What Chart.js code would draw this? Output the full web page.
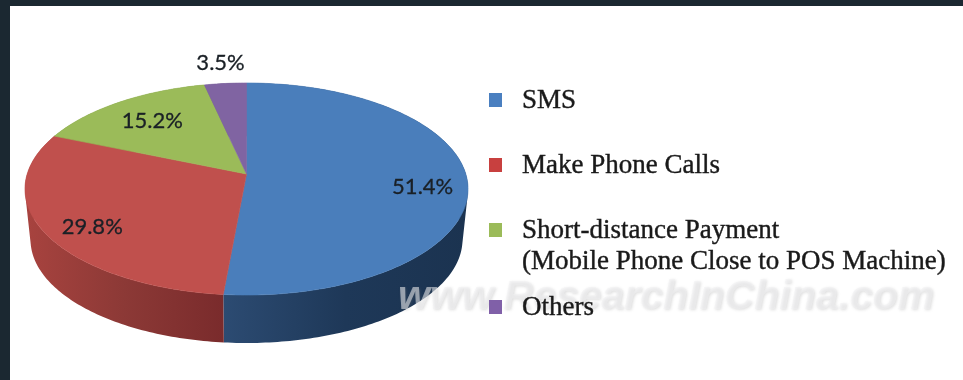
<!DOCTYPE html>
<html>
<head>
<meta charset="utf-8">
<style>
  html, body { margin: 0; padding: 0; background: #1b2831; }
  canvas { display: block; }
</style>
<script src="https://cdn.jsdelivr.net/npm/chart.js@4"></script>
</head>
<body>
<canvas id="chart" width="963" height="380"></canvas>
<script>
// Share of mobile payment / phone usage categories, in percent
const categories = ['SMS', 'Make Phone Calls', 'Short-distance Payment\n(Mobile Phone Close to POS Machine)', 'Others'];
const shares = [51.4, 29.8, 15.2, 3.5];
const valueLabels = ['51.4%', '29.8%', '15.2%', '3.5%'];
const sliceColors = ['#4a7ebb', '#c0504d', '#9bbb59', '#8064a2'];
const legendColors = ['#4a7fc0', '#c8403f', '#9bbb59', '#8060a8'];
const wallShades = [
  ['#2c4b72', '#1e3858', '#1b3350'],
  ['#a8433f', '#8c3936', '#7a2b2c'],
  ['#6d8540', '#6d8540', '#6d8540'],
  ['#5a4674', '#5a4674', '#5a4674']
];

// Perspective tilt of the disc
const tilt = { cx: 246.5, cy: 174, rx: 219.3, ry: 103.9, persp: 0.1415 };
const base = { cy: 225, scale: 0.975 };

function project(theta, r, lower) {
  const u = Math.cos(theta) * r;
  const v = -Math.sin(theta) * r;
  const w = 1 + tilt.persp * v;
  const s = lower ? base.scale : 1;
  return {
    x: tilt.cx + s * tilt.rx * u / w,
    y: (lower ? base.cy : tilt.cy) - s * tilt.ry * v / w
  };
}

function rimPoints(a0, a1, lower) {
  const steps = Math.max(6, Math.ceil((a1 - a0) * 60));
  const pts = [];
  for (let i = 0; i <= steps; i++) {
    pts.push(project(a0 + (a1 - a0) * i / steps, 1, lower));
  }
  return pts;
}

function signedArea(q) {
  let sum = 0;
  q.forEach((p, i) => {
    const n = q[(i + 1) % q.length];
    sum += p.x * n.y - n.x * p.y;
  });
  return sum;
}

// Draws the pie's arc elements as an extruded, tilted disc
const tiltedPie = {
  id: 'tiltedPie',
  beforeDatasetDraw(chart, args) {
    const ctx = chart.ctx;
    const arcs = args.meta.data;
    ctx.save();
    // Side wall: quads share one path and one winding, so no seams appear between them
    arcs.forEach((arc, i) => {
      const top = rimPoints(arc.startAngle, arc.endAngle, false);
      const low = rimPoints(arc.startAngle, arc.endAngle, true);
      const xs = top.map(p => p.x);
      const g = ctx.createLinearGradient(Math.min(...xs), 0, Math.max(...xs), 0);
      wallShades[i].forEach((c, k) => g.addColorStop(k / 2, c));
      ctx.fillStyle = g;
      ctx.beginPath();
      for (let k = 0; k < top.length - 1; k++) {
        const quad = [top[k], top[k + 1], low[k + 1], low[k]];
        if (signedArea(quad) < 0) quad.reverse();
        quad.forEach((p, n) => n ? ctx.lineTo(p.x, p.y) : ctx.moveTo(p.x, p.y));
        ctx.closePath();
      }
      ctx.fill('nonzero');
    });
    arcs.forEach((arc, i) => {
      const apex = project(0, 0, false);
      ctx.fillStyle = sliceColors[i];
      ctx.strokeStyle = sliceColors[i];
      ctx.lineWidth = 0.6;
      ctx.beginPath();
      ctx.moveTo(apex.x, apex.y);
      rimPoints(arc.startAngle, arc.endAngle, false).forEach(p => ctx.lineTo(p.x, p.y));
      ctx.closePath();
      ctx.fill();
      ctx.stroke();
    });
    ctx.restore();
    return false;
  },
  afterDatasetsDraw(chart) {
    const ctx = chart.ctx;
    const arcs = chart.getDatasetMeta(0).data;
    const spots = [
      { r: 0.80, dy: 9 },
      { r: 0.775, dy: 9 },
      { r: 0.72, dy: 0 },
      { r: 1.27, dy: 0 }
    ];
    ctx.save();
    ctx.font = '22px Lato, "Open Sans", sans-serif';
    ctx.fillStyle = '#1a2026';
    ctx.strokeStyle = '#1a2026';
    ctx.lineWidth = 0.3;
    ctx.textAlign = 'center';
    ctx.textBaseline = 'middle';
    arcs.forEach((arc, i) => {
      const mid = (arc.startAngle + arc.endAngle) / 2;
      const p = project(mid, spots[i].r, false);
      ctx.fillText(valueLabels[i], p.x, p.y + spots[i].dy);
      ctx.strokeText(valueLabels[i], p.x, p.y + spots[i].dy);
    });
    ctx.restore();
  }
};

// Background panel, site watermark and side legend
const page = {
  id: 'page',
  beforeDraw(chart) {
    const ctx = chart.ctx;
    ctx.save();
    ctx.fillStyle = '#1b2831';
    ctx.fillRect(0, 0, chart.width, chart.height);
    ctx.fillStyle = '#ffffff';
    ctx.fillRect(10, 6, chart.width - 10, chart.height - 6);
    ctx.restore();
  },
  afterDraw(chart) {
    const ctx = chart.ctx;
    const rows = [101, 166, 231, 308];

    ctx.save();
    ctx.font = 'italic bold 41px "Liberation Sans", sans-serif';
    ctx.shadowColor = 'rgba(120,120,120,0.45)';
    ctx.shadowBlur = 3;
    ctx.shadowOffsetX = 1;
    ctx.shadowOffsetY = 1;
    ctx.fillStyle = 'rgba(240,241,243,0.55)';
    ctx.fillText('www.ResearchInChina.com', 398, 309);
    ctx.restore();

    ctx.save();
    ctx.font = '27px "Liberation Serif", serif';
    ctx.textBaseline = 'middle';
    ctx.strokeStyle = '#1a1a1a';
    ctx.lineWidth = 0.4;
    chart.data.labels.forEach((label, i) => {
      ctx.fillStyle = legendColors[i];
      ctx.fillRect(489, rows[i] - 8, 13, 14);
      ctx.fillStyle = '#1a1a1a';
      label.split('\n').forEach((line, k) => {
        ctx.fillText(line, 522, rows[i] + k * 31);
        ctx.strokeText(line, 522, rows[i] + k * 31);
      });
    });
    ctx.restore();
  }
};

new Chart(document.getElementById('chart'), {
  type: 'pie',
  data: {
    labels: categories,
    datasets: [{ data: shares, backgroundColor: sliceColors, borderWidth: 0 }]
  },
  options: {
    responsive: false,
    animation: false,
    plugins: { legend: { display: false }, tooltip: { enabled: false }, title: { display: false } }
  },
  plugins: [page, tiltedPie]
});
</script>
</body>
</html>
